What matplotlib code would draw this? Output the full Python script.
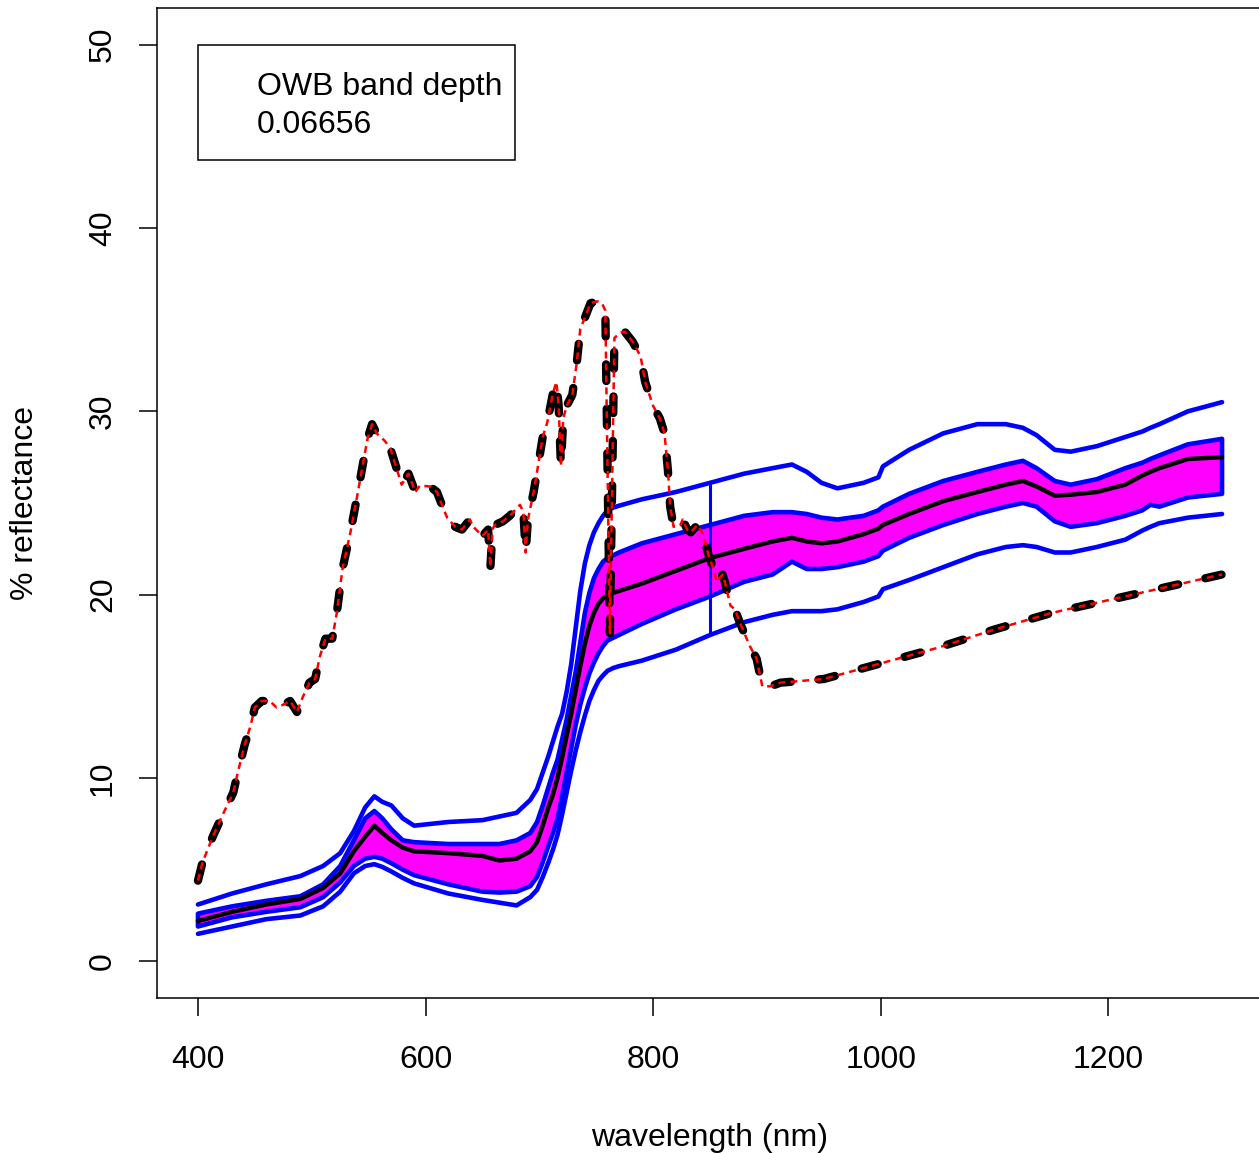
import matplotlib
matplotlib.use("Agg")
import matplotlib.pyplot as plt
from matplotlib.patches import Rectangle

plt.rcParams["font.family"] = ["Liberation Sans", "DejaVu Sans"]
plt.rcParams["lines.scale_dashes"] = False

# shared wavelength grid for the envelope curves (nm)
wl = [400, 430, 460, 490, 510, 525, 537, 547, 555, 562, 570, 580, 590, 620,
      650, 665, 680,
      692, 698, 703, 708, 712, 716, 720, 724, 728, 732, 736, 740, 744, 748,
      752, 756, 760, 765, 770,
      790, 820, 850, 880, 905, 922, 935, 948, 962, 985, 998, 1002, 1025,
      1055, 1085, 1110, 1125, 1137, 1153, 1167, 1190, 1215, 1230, 1237,
      1245, 1270, 1300]

outer_upper = [3.1, 3.7, 4.2, 4.65, 5.2, 5.9, 7.1, 8.4, 9.0, 8.7, 8.5, 7.8,
               7.4, 7.6, 7.7, 7.9, 8.1,
               8.8, 9.4, 10.3, 11.2, 12.0, 12.8, 13.5, 14.7, 16.2, 18.2,
               20.2, 21.7, 22.7, 23.4, 23.9, 24.3, 24.6, 24.75, 24.85,
               25.2, 25.6, 26.1, 26.6, 26.9, 27.1, 26.7, 26.1, 25.8, 26.1,
               26.4, 27.0, 27.9, 28.8, 29.3, 29.3, 29.1, 28.7, 27.9, 27.8,
               28.1, 28.6, 28.9, 29.1, 29.3, 30.0, 30.5]

band_upper = [2.6, 3.0, 3.3, 3.55, 4.2, 5.2, 6.6, 7.8, 8.2, 7.8, 7.2, 6.6,
              6.5, 6.4, 6.4, 6.4, 6.6,
              7.0, 7.6, 8.5, 9.5, 10.3, 11.0, 12.1, 13.2, 14.5, 15.8, 17.4,
              19.0, 20.1, 20.9, 21.4, 21.8, 22.0, 22.15, 22.3,
              22.8, 23.3, 23.8, 24.3, 24.5, 24.5, 24.4, 24.2, 24.1, 24.3,
              24.6, 24.8, 25.5, 26.2, 26.7, 27.1, 27.3, 26.9, 26.2, 26.0,
              26.3, 26.9, 27.2, 27.4, 27.6, 28.2, 28.5]

mean_refl = [2.2, 2.7, 3.1, 3.4, 4.0, 4.8, 6.0, 6.8, 7.4, 7.0, 6.6, 6.2,
             6.0, 5.9, 5.75, 5.5, 5.6,
             6.0, 6.5, 7.4, 8.4, 9.1, 10.0, 11.1, 12.3, 13.5, 14.8, 16.1,
             17.3, 18.3, 19.0, 19.5, 19.8, 19.95, 20.1, 20.2,
             20.6, 21.3, 22.0, 22.5, 22.9, 23.1, 22.9, 22.8, 22.9, 23.3,
             23.6, 23.8, 24.4, 25.1, 25.6, 26.0, 26.2, 25.9, 25.4, 25.45,
             25.6, 26.0, 26.5, 26.7, 26.9, 27.4, 27.5]

band_lower = [1.9, 2.4, 2.7, 2.95, 3.5, 4.3, 5.2, 5.6, 5.7, 5.6, 5.35, 5.0,
              4.7, 4.2, 3.8, 3.75, 3.8,
              4.1, 4.6, 5.4, 6.3, 7.0, 7.8, 9.0, 10.3, 11.6, 12.9, 14.0,
              14.9, 15.7, 16.3, 16.8, 17.2, 17.5, 17.65, 17.8,
              18.4, 19.2, 19.9, 20.7, 21.1, 21.8, 21.4, 21.4, 21.5, 21.8,
              22.1, 22.4, 23.1, 23.8, 24.4, 24.8, 25.0, 24.8, 24.0, 23.7,
              23.9, 24.3, 24.6, 24.9, 24.8, 25.3, 25.5]

outer_lower = [1.5, 1.9, 2.3, 2.5, 3.0, 3.8, 4.8, 5.2, 5.3, 5.15, 4.9, 4.55,
               4.25, 3.7, 3.35, 3.2, 3.05,
               3.5, 3.9, 4.6, 5.4, 6.1, 6.9, 8.0, 9.2, 10.4, 11.5, 12.5,
               13.4, 14.2, 14.8, 15.3, 15.6, 15.85, 16.0, 16.1,
               16.4, 17.0, 17.8, 18.5, 18.9, 19.1, 19.1, 19.1, 19.2, 19.6,
               19.9, 20.3, 20.8, 21.5, 22.2, 22.6, 22.7, 22.6, 22.3, 22.3,
               22.6, 23.0, 23.5, 23.7, 23.9, 24.2, 24.4]

# sample spectrum (dashed)
spec_wl = [400, 404, 413, 421, 431, 435, 441, 446, 450, 456, 463, 469, 475,
           481, 487, 492, 498, 503, 507, 512, 518, 522, 527, 534, 540, 544,
           549, 553, 557, 564, 569, 575, 579, 585, 591, 595, 604, 610, 615,
           619, 626, 632, 639, 642, 650, 655, 657, 659, 661, 668, 674, 683,
           686, 688, 690, 695, 698, 703, 707, 712, 715, 717, 719, 721, 724,
           729, 733, 736, 740, 745, 751, 755, 758, 762, 766, 771, 775, 782,
           789, 793, 800, 806, 810, 813, 815, 818, 824, 826, 830, 833, 839,
           844, 848, 853, 856, 861, 863, 868, 872, 876, 885, 891, 896, 903,
           912, 950, 1000, 1050, 1100, 1150, 1200, 1250, 1300]
spec_val = [4.4, 5.4, 6.8, 7.9, 9.2, 10.3, 11.8, 12.8, 13.85, 14.2, 14.2,
            13.85, 14.0, 14.2, 13.6, 14.4, 15.2, 15.4, 16.6, 17.6, 17.6,
            19.0, 21.4, 23.4, 25.4, 26.8, 28.5, 29.3, 28.8, 28.4, 28.0,
            26.8, 26.0, 26.6, 25.6, 25.95, 25.9, 25.6, 24.8, 24.2, 23.7,
            23.55, 24.1, 23.7, 23.2, 23.55, 21.5, 23.6, 23.8, 24.0, 24.3,
            24.9, 24.5, 22.3, 24.1, 25.6, 26.7, 28.6, 29.4, 31.0, 31.6,
            30.3, 27.0, 29.6, 30.3, 30.9, 32.7, 34.5, 35.1, 35.9, 36.0,
            35.9, 35.5, 17.9, 34.0, 34.3, 34.35, 33.8, 33.0, 31.6, 30.3,
            29.6, 28.8, 26.8, 24.8, 23.7, 23.8, 24.1, 23.55, 23.4, 23.8,
            23.3, 22.3, 21.4, 20.7, 21.1, 20.7, 19.4, 19.2, 18.5, 17.2,
            16.5, 15.0, 15.0, 15.2, 15.4, 16.25, 17.1, 18.1, 19.0, 19.7,
            20.4, 21.1]

owb_wl = 850
legend_lines = ["OWB band depth", "0.06656"]
x_ticks = [400, 600, 800, 1000, 1200]
y_ticks = [0, 10, 20, 30, 40, 50]

W, H = 1259, 1153
fig = plt.figure(figsize=(W / 100, H / 100), dpi=100)
ax = fig.add_axes([157 / W, 1 - 998 / H, (1263 - 157) / W, (998 - 8) / H])
ax.set_xlim(364, 1336)
ax.set_ylim(-2, 52)

blue = "#0000FF"
lw_blue = 3.3

# +/- band as filled polygon
poly_x = wl + wl[::-1]
poly_y = band_upper + band_lower[::-1]
ax.fill(poly_x, poly_y, facecolor="#FF00FF", edgecolor=blue, linewidth=lw_blue,
        joinstyle="round", zorder=2)
ax.plot(wl, outer_upper, color=blue, lw=lw_blue, solid_capstyle="round",
        solid_joinstyle="round", zorder=3)
ax.plot(wl, outer_lower, color=blue, lw=lw_blue, solid_capstyle="round",
        solid_joinstyle="round", zorder=3)
ax.plot(wl, mean_refl, color="black", lw=3.2, solid_capstyle="round",
        solid_joinstyle="round", zorder=4)

i = wl.index(owb_wl)
ax.vlines(owb_wl, outer_lower[i], outer_upper[i], color=blue, lw=2.2, zorder=4)

ax.plot(spec_wl, spec_val, color="black", lw=6.0, linestyle=(0, (12, 20)),
        dash_capstyle="round", dash_joinstyle="round", zorder=5)
ax.plot(spec_wl, spec_val, color="#FF0000", lw=1.8, linestyle=(0, (5, 3.6)),
        zorder=6)

# legend box
ax.add_patch(Rectangle((400, 43.73), 279, 6.27, facecolor="white",
                       edgecolor="black", lw=1.1, zorder=7))
ax.text(452, 47.71, legend_lines[0], fontsize=23, va="center", ha="left", zorder=8)
ax.text(452, 45.64, legend_lines[1], fontsize=23, va="center", ha="left", zorder=8)

ax.set_xticks(x_ticks)
ax.set_xticklabels([str(v) for v in x_ticks])
ax.set_yticks(y_ticks)
ax.set_yticklabels([str(v) for v in y_ticks], rotation=90, va="center")
ax.tick_params(axis="both", direction="out", length=13, width=1.1,
               labelsize=23)
ax.tick_params(axis="x", pad=21)
ax.tick_params(axis="y", pad=15)
for s in ax.spines.values():
    s.set_linewidth(1.1)

fig.text(710 / W, 1 - 1138 / H, "wavelength (nm)", fontsize=23,
         ha="center", va="center")
fig.text(25 / W, 1 - 503 / H, "% reflectance", fontsize=23, rotation=90,
         ha="center", va="center")

fig.savefig("out.png", dpi=100)
